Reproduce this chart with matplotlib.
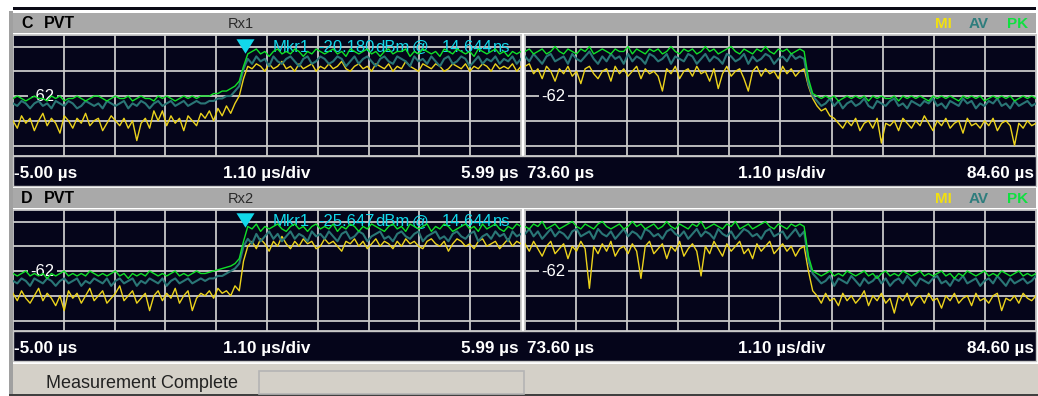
#!/usr/bin/env python3
"""PVT (power vs time) screen: windows C and D, rising and falling burst edges."""

import numpy as np
import matplotlib
matplotlib.use("Agg")
import matplotlib.pyplot as plt
from matplotlib.patches import Rectangle
from matplotlib.transforms import offset_copy, blended_transform_factory

plt.rcParams['font.family'] = ['Liberation Sans', 'DejaVu Sans']

# ---- data ----
left_span = (-5.00, 5.99)      # us
right_span = (73.60, 84.60)    # us
us_per_div = 1.10
ref_level = -62                # labelled grid line
db_per_div = 10
y_range = (-86.24, -37.35)

marker_time = 0.014644         # us (14.644 ns)
marker_level_c = -44.6
marker_level_d = -44.2
marker_text_c = ['Mkr1', '-20.180', 'dBm', '@', '14.644', 'ns']
marker_text_d = ['Mkr1', '-25.647', 'dBm', '@', '14.644', 'ns']

# window C, rising edge
c_left_pk = [-63, -62, -63, -64, -63, -62, -63, -63, -64, -62,
             -63, -62, -64, -63, -63, -62, -63, -64, -63, -62,
             -62, -63, -64, -63, -62, -63, -63, -62, -64, -63,
             -62, -63, -63, -64, -62, -63, -62, -63, -64, -63,
             -62, -63, -62, -63, -62, -62, -62, -61, -61, -60,
             -60, -59, -58, -56, -50, -45, -44, -43, -45, -44,
             -46, -44, -43, -45, -44, -45, -43, -44, -46, -44,
             -45, -43, -44, -45, -44, -43, -45, -44, -46, -43,
             -44, -45, -44, -43, -45, -44, -46, -44, -43, -45,
             -44, -44, -43, -46, -44, -45, -43, -44, -45, -44,
             -46, -43, -44, -45, -43, -44, -45, -44, -46, -43,
             -44, -45, -44, -43, -45, -44, -46, -44, -45, -44]
c_left_av = [-65, -66, -64, -65, -67, -65, -64, -66, -65, -67,
             -64, -65, -66, -64, -65, -67, -66, -64, -65, -66,
             -65, -67, -64, -65, -66, -65, -64, -67, -65, -66,
             -64, -65, -67, -65, -64, -66, -65, -64, -66, -65,
             -64, -66, -65, -64, -65, -65, -64, -64, -63, -63,
             -62, -62, -60, -58, -51, -47, -49, -46, -48, -47,
             -50, -46, -48, -49, -47, -46, -48, -50, -47, -46,
             -49, -48, -46, -47, -49, -48, -46, -47, -50, -48,
             -46, -49, -47, -46, -48, -50, -47, -46, -48, -49,
             -46, -47, -48, -50, -46, -48, -47, -49, -46, -48,
             -50, -47, -46, -49, -48, -46, -47, -50, -48, -46,
             -49, -47, -48, -46, -49, -47, -48, -46, -49, -47]
c_left_mi = [-72, -75, -70, -73, -71, -76, -72, -69, -74, -71,
             -73, -77, -70, -72, -75, -71, -73, -69, -74, -72,
             -71, -76, -73, -70, -72, -74, -71, -75, -72, -80,
             -73, -71, -75, -68, -72, -68, -74, -70, -73, -71,
             -76, -70, -72, -74, -69, -71, -68, -72, -67, -70,
             -66, -69, -65, -62, -55, -50, -51, -49, -50, -52,
             -49, -51, -50, -48, -51, -50, -52, -49, -51, -50,
             -49, -52, -50, -51, -49, -51, -50, -48, -51, -52,
             -50, -49, -51, -50, -52, -49, -50, -51, -49, -52,
             -50, -51, -48, -50, -51, -52, -49, -50, -51, -49,
             -50, -52, -51, -49, -50, -51, -49, -52, -50, -51,
             -49, -50, -52, -49, -51, -50, -51, -49, -52, -50]

# window C, falling edge
c_right_pk = [-44, -43, -45, -44, -43, -45, -44, -42, -44, -45,
              -43, -44, -45, -43, -44, -42, -45, -44, -43, -44,
              -45, -43, -44, -44, -42, -45, -43, -44, -45, -43,
              -44, -43, -45, -44, -42, -44, -45, -43, -44, -43,
              -45, -44, -42, -44, -43, -45, -44, -43, -42, -44,
              -45, -43, -44, -45, -43, -44, -42, -44, -45, -43,
              -44, -43, -45, -44, -43, -44, -55, -61, -62, -63,
              -62, -63, -62, -64, -63, -62, -63, -62, -63, -62,
              -64, -62, -63, -62, -63, -63, -62, -64, -62, -63,
              -62, -63, -62, -63, -64, -62, -63, -62, -63, -62,
              -63, -64, -62, -63, -62, -63, -62, -64, -63, -62,
              -63, -62, -63, -62, -64, -63, -62, -63, -62, -63]
c_right_av = [-46, -48, -45, -47, -49, -46, -45, -48, -47, -46,
              -49, -45, -47, -48, -46, -44, -47, -49, -46, -48,
              -45, -47, -46, -49, -45, -48, -46, -47, -49, -45,
              -46, -48, -47, -45, -49, -46, -47, -48, -45, -46,
              -49, -47, -45, -48, -46, -47, -49, -45, -46, -48,
              -47, -45, -49, -46, -48, -47, -45, -46, -49, -47,
              -46, -48, -45, -47, -46, -47, -57, -62, -64, -66,
              -65, -63, -66, -64, -67, -65, -64, -66, -65, -63,
              -66, -67, -64, -65, -66, -64, -63, -66, -65, -67,
              -64, -65, -66, -64, -65, -63, -66, -65, -67, -64,
              -65, -66, -63, -65, -64, -67, -65, -66, -64, -65,
              -63, -66, -65, -67, -64, -66, -65, -64, -66, -65]
c_right_mi = [-50, -49, -53, -51, -55, -50, -52, -56, -51, -53,
              -50, -54, -52, -57, -51, -50, -53, -55, -52, -51,
              -56, -50, -53, -51, -54, -52, -50, -55, -51, -53,
              -52, -54, -60, -51, -53, -50, -55, -52, -51, -54,
              -50, -53, -52, -56, -51, -59, -53, -50, -54, -52,
              -51, -55, -60, -52, -50, -54, -51, -53, -52, -55,
              -50, -53, -51, -54, -52, -51, -58, -63, -66, -68,
              -67, -70, -71, -73, -75, -72, -74, -71, -76, -73,
              -72, -75, -71, -81, -73, -74, -72, -76, -71, -73,
              -75, -72, -74, -70, -73, -76, -72, -74, -71, -75,
              -73, -72, -77, -71, -74, -73, -75, -72, -74, -71,
              -76, -73, -72, -74, -82, -73, -75, -72, -74, -73]

# window D, rising edge
d_left_pk = [-63, -64, -63, -62, -64, -63, -64, -63, -65, -63,
             -64, -63, -62, -64, -63, -64, -63, -64, -62, -63,
             -64, -63, -64, -63, -62, -64, -63, -65, -63, -64,
             -63, -64, -62, -63, -64, -63, -64, -63, -62, -64,
             -63, -64, -63, -62, -63, -63, -62.5, -62, -61.5, -61,
             -60.5, -60, -59, -57, -50, -44, -45, -43, -46, -44,
             -45, -44, -43, -45, -46, -44, -43, -45, -44, -46,
             -44, -43, -45, -44, -45, -43, -46, -44, -45, -43,
             -44, -46, -44, -45, -43, -44, -45, -46, -44, -43,
             -45, -44, -46, -43, -44, -45, -44, -43, -46, -44,
             -45, -43, -44, -46, -45, -44, -43, -45, -44, -46,
             -43, -45, -44, -43, -45, -46, -44, -45, -43, -44]
d_left_av = [-66, -67, -65, -66, -68, -65, -66, -67, -65, -66,
             -68, -66, -65, -67, -66, -65, -68, -66, -67, -65,
             -66, -67, -65, -68, -66, -65, -67, -66, -65, -68,
             -66, -67, -65, -66, -67, -65, -68, -66, -65, -67,
             -66, -65, -67, -66, -65, -66, -65, -65, -64, -64,
             -63, -62, -61, -59, -52, -49, -51, -47, -50, -48,
             -46, -49, -47, -50, -48, -46, -49, -47, -48, -50,
             -46, -48, -47, -49, -46, -48, -50, -47, -46, -49,
             -48, -46, -47, -50, -48, -47, -46, -49, -48, -50,
             -47, -46, -48, -49, -47, -46, -50, -48, -47, -46,
             -49, -48, -50, -47, -46, -48, -49, -47, -46, -50,
             -48, -47, -49, -46, -48, -47, -50, -46, -48, -47]
d_left_mi = [-71, -74, -70, -73, -75, -72, -69, -74, -71, -73,
             -76, -72, -78, -70, -73, -71, -75, -72, -69, -74,
             -72, -70, -75, -73, -71, -68, -74, -72, -70, -75,
             -73, -71, -78, -72, -70, -74, -71, -73, -69, -75,
             -72, -70, -78, -73, -71, -72, -70, -73, -69, -71,
             -70, -72, -68, -70, -58, -52, -50, -53, -49, -51,
             -54, -50, -52, -48, -51, -53, -50, -52, -49, -51,
             -50, -53, -52, -49, -51, -50, -52, -54, -50, -51,
             -49, -52, -50, -53, -51, -49, -52, -50, -51, -53,
             -50, -52, -49, -51, -50, -52, -53, -50, -49, -51,
             -52, -50, -54, -51, -49, -50, -52, -51, -53, -50,
             -49, -52, -51, -50, -53, -51, -49, -52, -50, -51]

# window D, falling edge
d_right_pk = [-44, -45, -43, -44, -42, -45, -44, -43, -45, -44,
              -43, -42, -44, -45, -43, -44, -45, -43, -42, -44,
              -45, -44, -43, -45, -44, -42, -44, -43, -45, -44,
              -43, -45, -44, -42, -44, -45, -43, -44, -45, -43,
              -44, -42, -45, -44, -43, -44, -45, -43, -44, -42,
              -45, -44, -43, -45, -44, -43, -42, -44, -45, -43,
              -44, -45, -43, -44, -43, -44, -56, -62, -63, -64,
              -63, -62, -64, -63, -64, -62, -63, -64, -63, -62,
              -64, -63, -65, -63, -62, -64, -63, -64, -62, -63,
              -64, -63, -62, -64, -63, -64, -63, -62, -64, -63,
              -65, -63, -64, -62, -63, -64, -63, -62, -64, -63,
              -64, -62, -63, -64, -63, -62, -64, -63, -64, -63]
d_right_av = [-47, -45, -48, -46, -49, -47, -45, -48, -46, -47,
              -49, -46, -45, -48, -47, -46, -49, -45, -47, -48,
              -46, -49, -47, -45, -48, -46, -47, -49, -45, -46,
              -48, -47, -49, -46, -45, -47, -48, -46, -49, -47,
              -45, -48, -46, -47, -49, -45, -47, -48, -46, -49,
              -47, -45, -46, -48, -47, -49, -46, -45, -48, -47,
              -46, -49, -47, -45, -48, -46, -58, -63, -65, -67,
              -66, -64, -68, -65, -66, -67, -64, -66, -68, -65,
              -67, -66, -64, -67, -65, -68, -66, -65, -67, -64,
              -66, -68, -65, -66, -67, -65, -64, -67, -66, -68,
              -65, -66, -64, -67, -66, -65, -68, -66, -65, -67,
              -64, -66, -68, -65, -67, -66, -65, -67, -66, -64]
d_right_mi = [-51, -54, -50, -53, -56, -52, -50, -55, -53, -51,
              -57, -52, -54, -50, -53, -69, -52, -55, -51, -54,
              -50, -56, -53, -52, -55, -51, -54, -65, -52, -50,
              -55, -53, -51, -57, -52, -54, -50, -56, -53, -51,
              -54, -64, -52, -55, -50, -53, -56, -51, -54, -52,
              -50, -55, -53, -57, -51, -54, -52, -50, -55, -53,
              -51, -54, -52, -56, -53, -52, -62, -70, -72, -75,
              -71, -74, -73, -76, -71, -74, -72, -75, -73, -70,
              -76, -72, -74, -71, -75, -73, -79, -72, -74, -71,
              -76, -73, -72, -75, -71, -74, -73, -77, -72, -74,
              -71, -75, -73, -72, -76, -71, -74, -73, -75, -72,
              -71, -78, -73, -74, -72, -75, -71, -73, -74, -72]

# ---- colours ----
BG = '#05051a'
GRID = '#c8c8c8'
HEADER = '#a9a9a9'
STATUS = '#d4d0c8'
GREEN = '#10e028'
TEAL = '#2a7676'
YELLOW = '#ecd31c'
CYAN = '#12d8ea'

W, H = 1038, 396
fig = plt.figure(figsize=(W / 100, H / 100), dpi=100, facecolor='white')


def px_rect(x0, y0, x1, y1):
    # pixel box (top-left origin) -> figure fraction [l, b, w, h]
    return [x0 / W, 1 - y1 / H, (x1 - x0) / W, (y1 - y0) / H]


def box(x0, y0, x1, y1, **kw):
    l, b, w, h = px_rect(x0, y0, x1, y1)
    fig.patches.append(Rectangle((l, b), w, h, transform=fig.transFigure, **kw))


def label(x, y, s, **kw):
    fig.text(x / W, 1 - y / H, s, **kw)


def trace_panel(rect, span, pk, av, mi, ref_x):
    ax = fig.add_axes(px_rect(*rect))
    ax.set_facecolor(BG)
    ax.set_xlim(*span)
    ax.set_ylim(*y_range)
    step = (span[1] - span[0]) / 10
    ax.set_xticks([span[0] + k * step for k in range(1, 10)])
    ax.set_yticks([ref_level + k * db_per_div for k in (2, 1, 0, -1, -2)])
    ax.set_axisbelow(True)
    ax.grid(True, color=GRID, lw=1.3)
    ax.tick_params(length=0, labelbottom=False, labelleft=False)
    for s in ax.spines.values():
        s.set_color(GRID)
        s.set_linewidth(1.3)
    # min, average and peak traces, peak on top
    for vals, col, lw, z in ((mi, YELLOW, 1.0, 3), (av, TEAL, 1.5, 4), (pk, GREEN, 1.0, 5)):
        t = np.linspace(span[0], span[1], len(vals))
        ax.plot(t, vals, color=col, lw=lw, zorder=z)
    trans = blended_transform_factory(ax.transAxes, ax.transData)
    ax.text(ref_x, ref_level, f'{ref_level}', transform=trans, color='white',
            fontsize=12, ha='center', va='center', zorder=2,
            bbox=dict(boxstyle='square,pad=0.15', fc=BG, ec='none'))
    return ax


tri = [(-1, 0.8), (1, 0.8), (0, -0.8)]
marker_x_px = [273, 318, 375, 412, 442, 493]

windows = [
    ('C', 'Rx1', 0, c_left_pk, c_left_av, c_left_mi,
     c_right_pk, c_right_av, c_right_mi, marker_level_c, marker_text_c),
    ('D', 'Rx2', 175, d_left_pk, d_left_av, d_left_mi,
     d_right_pk, d_right_av, d_right_mi, marker_level_d, marker_text_d),
]

# frame bits
box(13, 7, 1036, 10, fc='#0a0a16', ec='none')
box(9, 11, 13, 396, fc='#a0a0a0', ec='none')

for name, rx, dy, lpk, lav, lmi, rpk, rav, rmi, mlev, mtext in windows:
    # header bar
    box(13, 13 + dy, 1036, 33 + dy, fc=HEADER, ec='none')
    label(21, 28.5 + dy, name, fontsize=11.5, fontweight='bold', va='baseline')
    label(44, 28.5 + dy, 'PVT', fontsize=11.5, fontweight='bold', va='baseline')
    label(228, 28.5 + dy, rx, fontsize=10.5, color='#2a2a2a', va='baseline')
    for s, x, c in (('MI', 935, '#f2e010'), ('AV', 969, '#2e7d7d'), ('PK', 1007, '#10e040')):
        label(x, 28.5 + dy, s, fontsize=11, fontweight='bold', color=c, va='baseline')

    # time scale strip
    box(13, 156 + dy, 1036, 186 + dy, fc=BG, ec=GRID, lw=1.0)
    kw = dict(fontsize=12.3, fontweight='bold', color='white', va='baseline')
    label(14, 178 + dy, f'{left_span[0]:.2f} µs', ha='left', **kw)
    label(267, 178 + dy, f'{us_per_div:.2f} µs/div', ha='center', **kw)
    label(519, 178 + dy, f'{left_span[1]:.2f} µs', ha='right', **kw)
    label(527, 178 + dy, f'{right_span[0]:.2f} µs', ha='left', **kw)
    label(782, 178 + dy, f'{us_per_div:.2f} µs/div', ha='center', **kw)
    label(1034, 178 + dy, f'{right_span[1]:.2f} µs', ha='right', **kw)

    # trace windows
    axl = trace_panel((13, 35 + dy, 521, 156 + dy), left_span, lpk, lav, lmi, 0.058)
    axr = trace_panel((525, 35 + dy, 1036, 156 + dy), right_span, rpk, rav, rmi, 0.055)

    # marker
    axl.plot([marker_time], [mlev], marker=tri, ms=13, color=CYAN, mew=0, ls='none',
             transform=offset_copy(axl.transData, fig=fig, x=0, y=7.2, units='dots'),
             zorder=6, clip_on=False)
    for s, x in zip(mtext, marker_x_px):
        axl.text((x - 13) / 508, 1 - (47 - 35) / 121, s, transform=axl.transAxes,
                 color=CYAN, fontsize=12, ha='left', va='center', zorder=2)

# status bar
box(13, 364, 1038, 394, fc=STATUS, ec='none')
box(9, 394, 1038, 396, fc='#404040', ec='none')
box(259, 371, 524, 394, fc=STATUS, ec='#b4b4b4', lw=1.2)
label(46, 388, 'Measurement Complete', fontsize=13, color='#222222', va='baseline')

fig.savefig('out.png', dpi=100, facecolor='white')
